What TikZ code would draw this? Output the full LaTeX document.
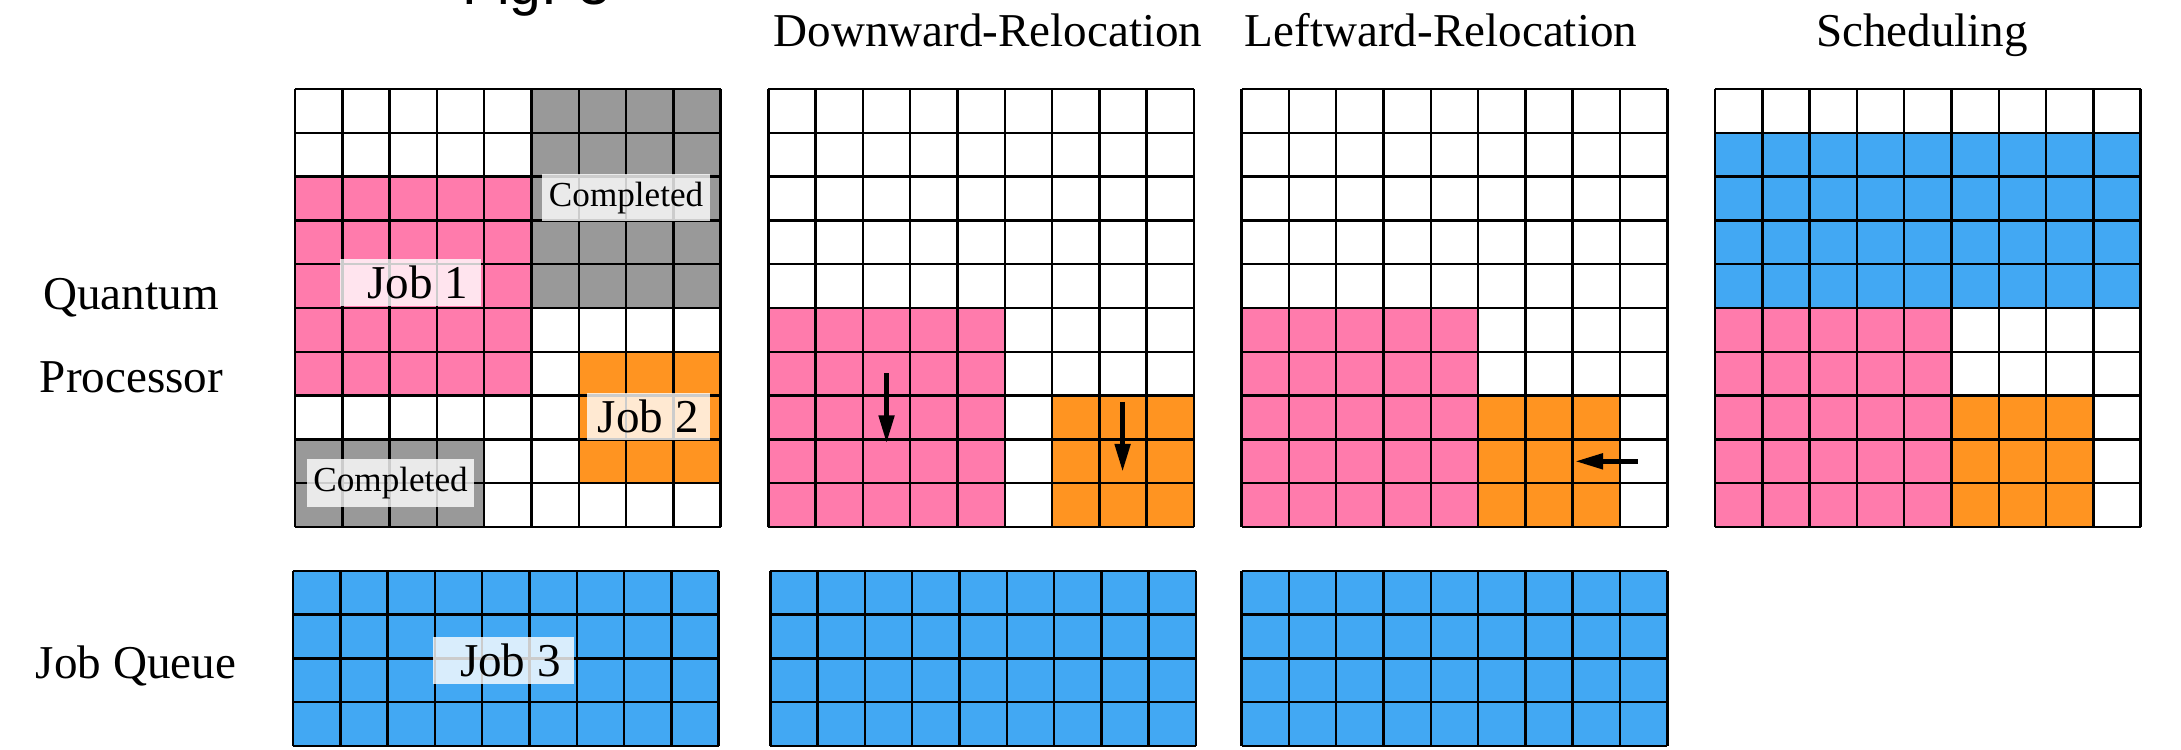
\documentclass[tikz,border=0pt]{standalone}
\usepackage{fontspec}
\setmainfont{Liberation Serif}
\newfontfamily\figfont{Liberation Sans}
\usepackage{xcolor}
\usepackage{tikz}
\usetikzlibrary{arrows.meta, positioning, calc}

\definecolor{jobpink}{HTML}{FF7BAC}
\definecolor{joborange}{HTML}{FF9421}
\definecolor{jobblue}{HTML}{42A8F3}
\definecolor{donegray}{HTML}{999999}

\begin{document}
\begin{tikzpicture}[
    cellunits/.style={x=0.473cm, y=0.438cm},
    gridline/.style={line width=0.7pt, black},
    jobtag/.style={fill=white, fill opacity=0.8, text opacity=1, inner sep=0pt,
        minimum height=0.475cm, font=\fontsize{13.4}{16}\selectfont},
    donetag/.style={jobtag, font=\fontsize{10}{12}\selectfont},
    paneltitle/.style={anchor=base, font=\fontsize{13.4}{16}\selectfont},
    rowlabel/.style={anchor=base, font=\fontsize{13.4}{16}\selectfont},
    shiftarrow/.style={line width=1.4pt, -{Triangle[length=0.28cm, width=0.15cm]}}
]
    \useasboundingbox (0,0) rectangle (21.81,-7.49);

    % 图号(上方被裁掉)
    \node[anchor=base west, font=\figfont\fontsize{16.2}{18}\selectfont] (figtitle) at (4.5,-0.04) {Fig. 3};

    % 标题
    \node[paneltitle] (downtitle) at (9.88,-0.46) {Downward-Relocation};
    \node[paneltitle] (lefttitle) at (14.41,-0.46) {Leftward-Relocation};
    \node[paneltitle] (schedtitle) at (19.22,-0.46) {Scheduling};

    % 行标签
    \node[rowlabel] (quantum) at (1.31,-3.095) {Quantum};
    \node[rowlabel] (processor) at (1.315,-3.92) {Processor};
    \node[rowlabel] (queue) at (1.36,-6.785) {Job Queue};

    % 初始状态
    \begin{scope}[shift={(2.95,-5.27)}, cellunits]
        \fill[donegray] (5,5) rectangle (9,10);
        \fill[donegray] (0,0) rectangle (4,2);
        \fill[jobpink] (0,3) rectangle (5,8);
        \fill[joborange] (6,1) rectangle (9,4);
        \foreach \c in {0,...,9} \draw[gridline] (\c,0) -- (\c,10);
        \foreach \r in {0,...,10} \draw[gridline] (0,\r) -- (9,\r);
        \node[donetag, minimum width=1.68cm] (donetop) at (7.0,7.52) {Completed};
        \node[jobtag, minimum width=1.41cm] (jobone) at (2.45,5.585) {\hspace{0.14cm}Job 1};
        \node[jobtag, minimum width=1.23cm] (jobtwo) at (7.47,2.52) {Job 2};
        \node[donetag, minimum width=1.675cm] (donebot) at (2.02,1.01) {Completed};
    \end{scope}

    % 向下移动
    \begin{scope}[shift={(7.683,-5.27)}, cellunits]
        \fill[jobpink] (0,0) rectangle (5,5);
        \fill[joborange] (6,0) rectangle (9,3);
        \foreach \c in {0,...,9} \draw[gridline] (\c,0) -- (\c,10);
        \foreach \r in {0,...,10} \draw[gridline] (0,\r) -- (9,\r);
        \coordinate (pinktail) at (2.5,3.51);
        \coordinate (pinktip) at (2.5,1.91);
        \coordinate (orangetail) at (7.49,2.86);
        \coordinate (orangetip) at (7.49,1.26);
        \draw[shiftarrow] (pinktail) -- (pinktip);
        \draw[shiftarrow] (orangetail) -- (orangetip);
    \end{scope}

    % 向左移动
    \begin{scope}[shift={(12.416,-5.27)}, cellunits]
        \fill[jobpink] (0,0) rectangle (5,5);
        \fill[joborange] (5,0) rectangle (8,3);
        \foreach \c in {0,...,9} \draw[gridline] (\c,0) -- (\c,10);
        \foreach \r in {0,...,10} \draw[gridline] (0,\r) -- (9,\r);
        \coordinate (lefttail) at (8.38,1.5);
        \coordinate (lefttip) at (7.05,1.5);
        \draw[shiftarrow] (lefttail) -- (lefttip);
    \end{scope}

    % 调度结果
    \begin{scope}[shift={(17.15,-5.27)}, cellunits]
        \fill[jobblue] (0,5) rectangle (9,9);
        \fill[jobpink] (0,0) rectangle (5,5);
        \fill[joborange] (5,0) rectangle (8,3);
        \foreach \c in {0,...,9} \draw[gridline] (\c,0) -- (\c,10);
        \foreach \r in {0,...,10} \draw[gridline] (0,\r) -- (9,\r);
    \end{scope}

    % 作业队列
    \begin{scope}[shift={(2.93,-7.46)}, cellunits]
        \fill[jobblue] (0,0) rectangle (9,4);
        \foreach \c in {0,...,9} \draw[gridline] (\c,0) -- (\c,4);
        \foreach \r in {0,...,4} \draw[gridline] (0,\r) -- (9,\r);
        \node[jobtag, minimum width=1.414cm] (jobthree) at (4.45,1.955) {\hspace{0.14cm}Job 3};
    \end{scope}
    \begin{scope}[shift={(7.703,-7.46)}, cellunits]
        \fill[jobblue] (0,0) rectangle (9,4);
        \foreach \c in {0,...,9} \draw[gridline] (\c,0) -- (\c,4);
        \foreach \r in {0,...,4} \draw[gridline] (0,\r) -- (9,\r);
    \end{scope}
    \begin{scope}[shift={(12.416,-7.46)}, cellunits]
        \fill[jobblue] (0,0) rectangle (9,4);
        \foreach \c in {0,...,9} \draw[gridline] (\c,0) -- (\c,4);
        \foreach \r in {0,...,4} \draw[gridline] (0,\r) -- (9,\r);
    \end{scope}
\end{tikzpicture}
\end{document}
